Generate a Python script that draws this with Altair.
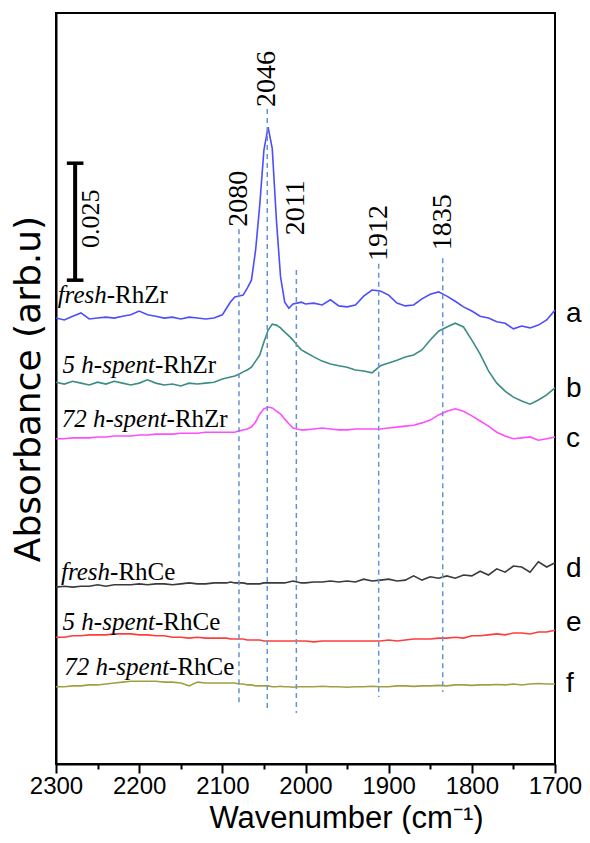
import altair as alt
import pandas as pd

# ---------------- data ----------------
wavenumber = [2300, 2290, 2280, 2270, 2260, 2250, 2240, 2230, 2220, 2210, 2200,
              2190, 2180, 2170, 2160, 2150, 2140, 2130, 2120, 2110, 2100,
              2095, 2090, 2085, 2080, 2075, 2070, 2065, 2060, 2055, 2050,
              2045, 2040, 2035, 2030, 2025, 2020, 2015, 2010, 2005,
              2000, 1990, 1980, 1970, 1960, 1950, 1940, 1930, 1920, 1910,
              1900, 1890, 1880, 1870, 1860, 1850, 1840, 1830, 1820, 1810,
              1800, 1790, 1780, 1770, 1760, 1750, 1740, 1730, 1720, 1710, 1700]

fresh_RhZr = [0.0953, 0.0949, 0.0957, 0.0964, 0.0951, 0.0953, 0.0955, 0.0953, 0.0957, 0.0960, 0.0968,
              0.0960, 0.0957, 0.0953, 0.0955, 0.0951, 0.0955, 0.0953, 0.0951, 0.0953, 0.0960,
              0.0974, 0.0988, 0.0998, 0.1000, 0.1002, 0.1017, 0.1034, 0.1098, 0.1195, 0.1312,
              0.1361, 0.1316, 0.1163, 0.1041, 0.0987, 0.0974, 0.0983, 0.0985, 0.0987,
              0.0983, 0.0985, 0.0981, 0.0992, 0.0979, 0.0977, 0.0981, 0.1000, 0.1013, 0.1011,
              0.1002, 0.0985, 0.0979, 0.0981, 0.0994, 0.1004, 0.1009, 0.1000, 0.0989, 0.0977,
              0.0968, 0.0957, 0.0953, 0.0945, 0.0942, 0.0930, 0.0936, 0.0932, 0.0938, 0.0949, 0.0970]

spent5_RhZr = [0.0816, 0.0812, 0.0818, 0.0814, 0.0810, 0.0816, 0.0812, 0.0818, 0.0814, 0.0810, 0.0814,
               0.0821, 0.0814, 0.0810, 0.0812, 0.0808, 0.0814, 0.0812, 0.0814, 0.0816, 0.0823,
               0.0825, 0.0827, 0.0829, 0.0833, 0.0838, 0.0842, 0.0848, 0.0861, 0.0874, 0.0902,
               0.0927, 0.0940, 0.0938, 0.0932, 0.0923, 0.0915, 0.0906, 0.0895, 0.0885,
               0.0880, 0.0870, 0.0861, 0.0855, 0.0851, 0.0848, 0.0842, 0.0840, 0.0836, 0.0851,
               0.0857, 0.0863, 0.0870, 0.0874, 0.0885, 0.0906, 0.0925, 0.0934, 0.0942, 0.0934,
               0.0906, 0.0876, 0.0840, 0.0814, 0.0797, 0.0784, 0.0776, 0.0769, 0.0778, 0.0789, 0.0804]

spent72_RhZr = [0.0695, 0.0695, 0.0697, 0.0697, 0.0697, 0.0699, 0.0699, 0.0701, 0.0701, 0.0701, 0.0703,
                0.0703, 0.0705, 0.0705, 0.0705, 0.0707, 0.0707, 0.0707, 0.0709, 0.0709, 0.0709,
                0.0709, 0.0709, 0.0709, 0.0712, 0.0714, 0.0716, 0.0720, 0.0731, 0.0748, 0.0759,
                0.0763, 0.0761, 0.0754, 0.0748, 0.0737, 0.0727, 0.0718, 0.0716, 0.0714,
                0.0714, 0.0716, 0.0718, 0.0716, 0.0714, 0.0714, 0.0716, 0.0716, 0.0716, 0.0716,
                0.0718, 0.0720, 0.0722, 0.0724, 0.0729, 0.0735, 0.0746, 0.0754, 0.0759, 0.0754,
                0.0744, 0.0733, 0.0722, 0.0709, 0.0701, 0.0695, 0.0697, 0.0699, 0.0692, 0.0695, 0.0699]

fresh_RhCe = [0.0378, 0.0380, 0.0378, 0.0380, 0.0380, 0.0383, 0.0380, 0.0383, 0.0383, 0.0383, 0.0385,
              0.0383, 0.0385, 0.0385, 0.0383, 0.0385, 0.0387, 0.0385, 0.0385, 0.0387, 0.0387,
              0.0387, 0.0389, 0.0387, 0.0387, 0.0387, 0.0385, 0.0385, 0.0385, 0.0385, 0.0387,
              0.0387, 0.0387, 0.0387, 0.0387, 0.0387, 0.0389, 0.0391, 0.0389, 0.0387,
              0.0387, 0.0389, 0.0389, 0.0391, 0.0389, 0.0391, 0.0389, 0.0395, 0.0391, 0.0393,
              0.0395, 0.0391, 0.0393, 0.0402, 0.0393, 0.0400, 0.0397, 0.0402, 0.0397, 0.0404,
              0.0402, 0.0412, 0.0404, 0.0417, 0.0410, 0.0423, 0.0421, 0.0410, 0.0432, 0.0421, 0.0430]

spent5_RhCe = [0.0271, 0.0271, 0.0274, 0.0274, 0.0276, 0.0276, 0.0276, 0.0278, 0.0278, 0.0278, 0.0276,
               0.0276, 0.0274, 0.0274, 0.0271, 0.0271, 0.0269, 0.0271, 0.0269, 0.0269, 0.0269,
               0.0269, 0.0267, 0.0267, 0.0267, 0.0267, 0.0265, 0.0265, 0.0265, 0.0265, 0.0263,
               0.0263, 0.0263, 0.0263, 0.0263, 0.0263, 0.0263, 0.0263, 0.0263, 0.0263,
               0.0263, 0.0261, 0.0263, 0.0263, 0.0263, 0.0263, 0.0263, 0.0263, 0.0263, 0.0263,
               0.0265, 0.0263, 0.0265, 0.0267, 0.0267, 0.0267, 0.0269, 0.0269, 0.0271, 0.0269,
               0.0274, 0.0274, 0.0276, 0.0278, 0.0276, 0.0280, 0.0280, 0.0278, 0.0282, 0.0282, 0.0286]

spent72_RhCe = [0.0165, 0.0165, 0.0167, 0.0167, 0.0169, 0.0169, 0.0171, 0.0173, 0.0175, 0.0177, 0.0177,
                0.0177, 0.0177, 0.0175, 0.0175, 0.0173, 0.0167, 0.0175, 0.0173, 0.0173, 0.0173,
                0.0173, 0.0173, 0.0173, 0.0171, 0.0171, 0.0169, 0.0169, 0.0167, 0.0167, 0.0167,
                0.0167, 0.0165, 0.0165, 0.0166, 0.0165, 0.0165, 0.0164, 0.0165, 0.0165,
                0.0165, 0.0165, 0.0166, 0.0165, 0.0165, 0.0164, 0.0165, 0.0165, 0.0166, 0.0165,
                0.0165, 0.0167, 0.0167, 0.0166, 0.0167, 0.0167, 0.0168, 0.0167, 0.0169, 0.0169,
                0.0168, 0.0169, 0.0169, 0.0170, 0.0169, 0.0171, 0.0169, 0.0171, 0.0172, 0.0171, 0.0171]

series_names = ["fresh-RhZr", "5 h-spent-RhZr", "72 h-spent-RhZr",
                "fresh-RhCe", "5 h-spent-RhCe", "72 h-spent-RhCe"]
series_colors = ["#4d4dff", "#3b8c84", "#ff4dff", "#3a3a3a", "#ff3c3c", "#a0a040"]

label_italic = ["fresh-", "5 h-spent-", "72 h-spent-", "fresh-", "5 h-spent-", "72 h-spent-"]
label_roman = ["RhZr", "RhZr", "RhZr", "RhCe", "RhCe", "RhCe"]
label_join_wn = [2229, 2171, 2157, 2225, 2171, 2154]
label_A = [0.0985, 0.0836, 0.0720, 0.0393, 0.0286, 0.0190]

letters = ["a", "b", "c", "d", "e", "f"]
letter_A = [0.0945, 0.0784, 0.0677, 0.0400, 0.0284, 0.0154]

peaks = [2080, 2046, 2011, 1912, 1835]
peak_top = [0.1143, 0.1400, 0.1056, 0.1069, 0.1081]
peak_bottom = [0.0126, 0.0115, 0.0109, 0.0143, 0.0154]
peak_label_A = [0.1148, 0.1404, 0.1130, 0.1075, 0.1098]

scale_bar_wn = 2277
scale_bar_cap = [2287, 2267]
scale_bar_low = 0.1034
scale_bar_size = 0.025
scale_label_wn = 2258
scale_label_A = 0.1103

x_ticks = [2300, 2250, 2200, 2150, 2100, 2050, 2000, 1950, 1900, 1850, 1800, 1750, 1700]

# ---------------- tables ----------------
all_series = [fresh_RhZr, spent5_RhZr, spent72_RhZr, fresh_RhCe, spent5_RhCe, spent72_RhCe]
rows = []
for name, vals in zip(series_names, all_series):
    assert len(vals) == len(wavenumber), name
    for w, v in zip(wavenumber, vals):
        rows.append({"series": name, "wn": w, "A": v})
spectra = pd.DataFrame(rows)

labels_df = pd.DataFrame({"it": label_italic, "rm": label_roman,
                          "wn": label_join_wn, "A": label_A})
letters_df = pd.DataFrame({"t": letters, "wn": [1700] * 6, "A": letter_A})
peaks_df = pd.DataFrame({"wn": peaks, "A": peak_top, "A2": peak_bottom,
                         "Alab": peak_label_A, "t": [str(p) for p in peaks]})
bar_df = pd.DataFrame({"wn": [scale_bar_wn], "A": [scale_bar_low],
                       "A2": [scale_bar_low + scale_bar_size]})
cap_df = pd.DataFrame({"wn": [scale_bar_cap[0]] * 2, "wn2": [scale_bar_cap[1]] * 2,
                       "A": [scale_bar_low, scale_bar_low + scale_bar_size]})
scale_lab_df = pd.DataFrame({"wn": [scale_label_wn], "A": [scale_label_A], "t": ["0.025"]})

# ---------------- scales & axes ----------------
XS = alt.Scale(domain=[2300, 1700], nice=False, zero=False)
YS = alt.Scale(domain=[0, 0.1605], nice=False, zero=False)

x_axis = alt.Axis(
    values=x_ticks, format="d",
    labelExpr="datum.value % 100 == 0 ? datum.label : ''",
    tickSize={"condition": {"test": "datum.value % 100 != 0", "value": 5}, "value": 9},
    labelOverlap=False, labelFlush=False,
    labelFontSize=24, labelPadding=1,
    title="Wavenumber (cm\u207b\u00b9)", titleFontSize=31,
    titleX=290, titleY=63, titleAlign="center", titleBaseline="alphabetic",
)
y_axis = alt.Axis(labels=False, ticks=False, title="Absorbance (arb.u)",
                  titleFont="DejaVu Sans", titleFontSize=36, titlePadding=9)

lines = alt.Chart(spectra).mark_line(strokeWidth=1.6).encode(
    x=alt.X("wn:Q", scale=XS, axis=x_axis),
    y=alt.Y("A:Q", scale=YS, axis=y_axis),
    color=alt.Color("series:N", scale=alt.Scale(domain=series_names, range=series_colors), legend=None),
    detail="series:N",
)


def X(f="wn"):
    return alt.X(f"{f}:Q", scale=XS, axis=x_axis)


def Y(f="A"):
    return alt.Y(f"{f}:Q", scale=YS, axis=y_axis)


dashed = alt.Chart(peaks_df).mark_rule(strokeDash=[5, 4], strokeWidth=1.5, color="#6593d2").encode(
    x=X(), y=Y(), y2="A2:Q")
peak_text = alt.Chart(peaks_df).mark_text(angle=270, align="left", baseline="middle",
                                          font="Liberation Serif", fontSize=28, color="black").encode(
    x=X(), y=Y("Alab"), text="t:N")

bar = alt.Chart(bar_df).mark_rule(strokeWidth=4, color="black").encode(x=X(), y=Y(), y2="A2:Q")
caps = alt.Chart(cap_df).mark_rule(strokeWidth=3.5, color="black").encode(x=X(), x2="wn2:Q", y=Y())
scale_text = alt.Chart(scale_lab_df).mark_text(angle=270, align="left", baseline="middle",
                                               font="Liberation Serif", fontSize=26, color="black").encode(
    x=X(), y=Y(), text="t:N")

it_text = alt.Chart(labels_df).mark_text(align="right", baseline="alphabetic", font="Liberation Serif",
                                         fontSize=25, fontStyle="italic", color="black").encode(
    x=X(), y=Y(), text="it:N")
rm_text = alt.Chart(labels_df).mark_text(align="left", baseline="alphabetic", font="Liberation Serif",
                                         fontSize=25, color="black").encode(
    x=X(), y=Y(), text="rm:N")
letter_text = alt.Chart(letters_df).mark_text(align="left", baseline="alphabetic", dx=11,
                                              font="Liberation Sans", fontSize=28, color="black").encode(
    x=X(), y=Y(), text="t:N")

chart = alt.layer(lines, dashed, peak_text, bar, caps, scale_text, it_text, rm_text, letter_text).properties(
    width=499, height=751,
    padding={"left": 48, "top": 5, "right": 27, "bottom": 70},
    autosize=alt.AutoSizeParams(type="none"),
    background="white",
).configure_view(stroke="black", strokeWidth=2).configure_axis(
    domainColor="black", domainWidth=2, tickColor="black", tickWidth=2, grid=False,
    labelColor="black", titleColor="black", labelFont="Liberation Sans", titleFont="Liberation Sans",
    titleFontWeight="normal",
)

chart.save("out.html", embed_options={"renderer": "svg", "actions": False})
